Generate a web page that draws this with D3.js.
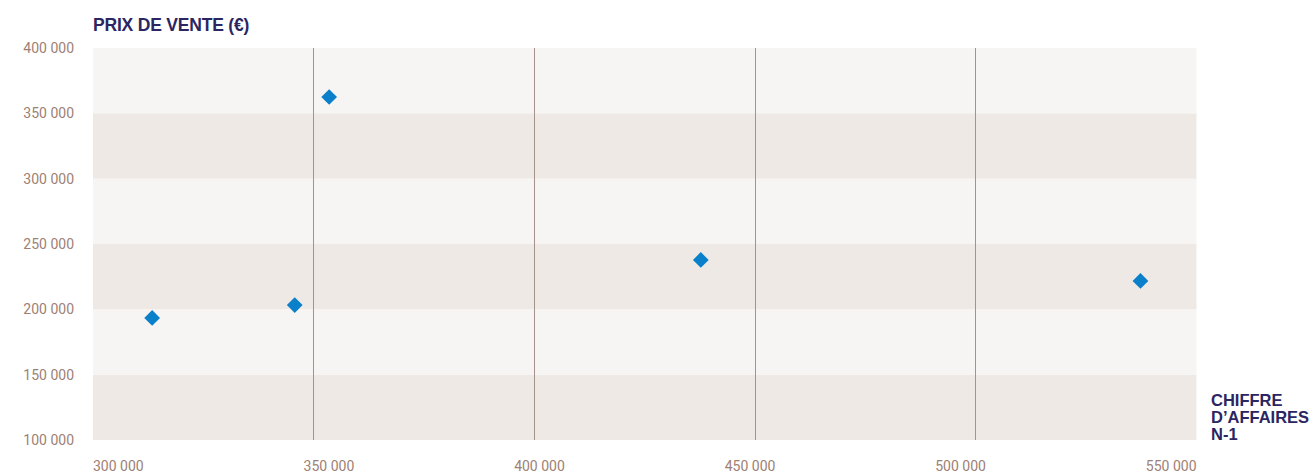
<!DOCTYPE html>
<html>
<head>
<meta charset="utf-8">
<script src="https://cdn.jsdelivr.net/npm/d3@7"></script>
<style>
  html, body { margin: 0; padding: 0; background: #ffffff; }
  svg { display: block; }
</style>
</head>
<body>
<svg id="chart" width="1313" height="473"></svg>
<script>
// Chiffre d'affaires N-1 (x) vs prix de vente (y), en euros
const chiffreAffaires = [313400, 345700, 353500, 437700, 537300];
const prixVente       = [193400, 203300, 362500, 237800, 221700];

const xTicks = [300000, 350000, 400000, 450000, 500000, 550000];
const yTicks = [100000, 150000, 200000, 250000, 300000, 350000, 400000];

const yTitle = "PRIX DE VENTE (€)";
const xTitleLines = ["CHIFFRE", "D\u2019AFFAIRES", "N-1"];

(function () {
  const fmt = v => d3.format(",")(v).replace(/,/g, " ");

  const svg = d3.select("#chart");
  const plotLeft = 93, plotRight = 1196.5, plotTop = 48, plotBottom = 440;

  const x = d3.scaleLinear().domain([300000, 550000]).range([plotLeft, plotRight]);
  const y = d3.scaleLinear().domain([100000, 400000]).range([plotBottom, plotTop]);

  const labelColor = "#9d8174";
  const navy = "#2b2562";

  // Alternating horizontal bands between y ticks
  const bands = d3.pairs(yTicks);
  svg.append("g").selectAll("rect")
    .data(bands)
    .join("rect")
    .attr("x", plotLeft)
    .attr("width", plotRight - plotLeft)
    .attr("y", d => y(d[1]))
    .attr("height", d => y(d[0]) - y(d[1]))
    .attr("fill", (d, i) => i % 2 === 0 ? "#efe9e6" : "#f7f5f3");

  // Vertical grid lines at inner x ticks
  svg.append("g").selectAll("line")
    .data(xTicks.slice(1, -1))
    .join("line")
    .attr("x1", d => Math.floor(x(d)) + 0.5)
    .attr("x2", d => Math.floor(x(d)) + 0.5)
    .attr("y1", plotTop)
    .attr("y2", plotBottom)
    .attr("stroke", "#a5928b")
    .attr("stroke-width", 1);

  // Y axis labels
  svg.append("g").selectAll("text")
    .data(yTicks)
    .join("text")
    .attr("x", 74)
    .attr("y", d => y(d))
    .attr("dy", "0.35em")
    .attr("text-anchor", "end")
    .attr("font-family", "Roboto, sans-serif")
    .attr("font-size", 14)
    .attr("fill", labelColor)
    .text(fmt);

  // X axis labels, spread evenly so the outer ones stay within the plot width
  const xLabels = svg.append("g").selectAll("text")
    .data(xTicks)
    .join("text")
    .attr("y", 471)
    .attr("font-family", "Roboto, sans-serif")
    .attr("font-size", 14)
    .attr("fill", labelColor)
    .text(fmt);
  const lw = d3.max(xLabels.nodes(), n => n.getComputedTextLength());
  const step = (plotRight - plotLeft - lw) / (xTicks.length - 1);
  xLabels.attr("x", (d, i) => plotLeft + i * step);

  // Axis titles
  svg.append("text")
    .attr("x", plotLeft)
    .attr("y", 31)
    .attr("font-family", "'Liberation Sans', Arial, sans-serif")
    .attr("font-weight", "bold")
    .attr("font-size", 17.5)
    .attr("letter-spacing", -0.2)
    .attr("fill", navy)
    .text(yTitle);

  svg.append("g").selectAll("text")
    .data(xTitleLines)
    .join("text")
    .attr("x", 1211)
    .attr("y", (d, i) => 406 + i * 17)
    .attr("font-family", "'Liberation Sans', Arial, sans-serif")
    .attr("font-weight", "bold")
    .attr("font-size", 16.5)
    .attr("fill", navy)
    .text(d => d);

  // Diamond markers
  const diamond = d3.symbol().type(d3.symbolSquare).size(124);
  svg.append("g").selectAll("path")
    .data(chiffreAffaires.map((v, i) => [v, prixVente[i]]))
    .join("path")
    .attr("d", diamond)
    .attr("transform", d => `translate(${x(d[0])},${y(d[1])}) rotate(45)`)
    .attr("fill", "#0a7fca");
})();
</script>
</body>
</html>
